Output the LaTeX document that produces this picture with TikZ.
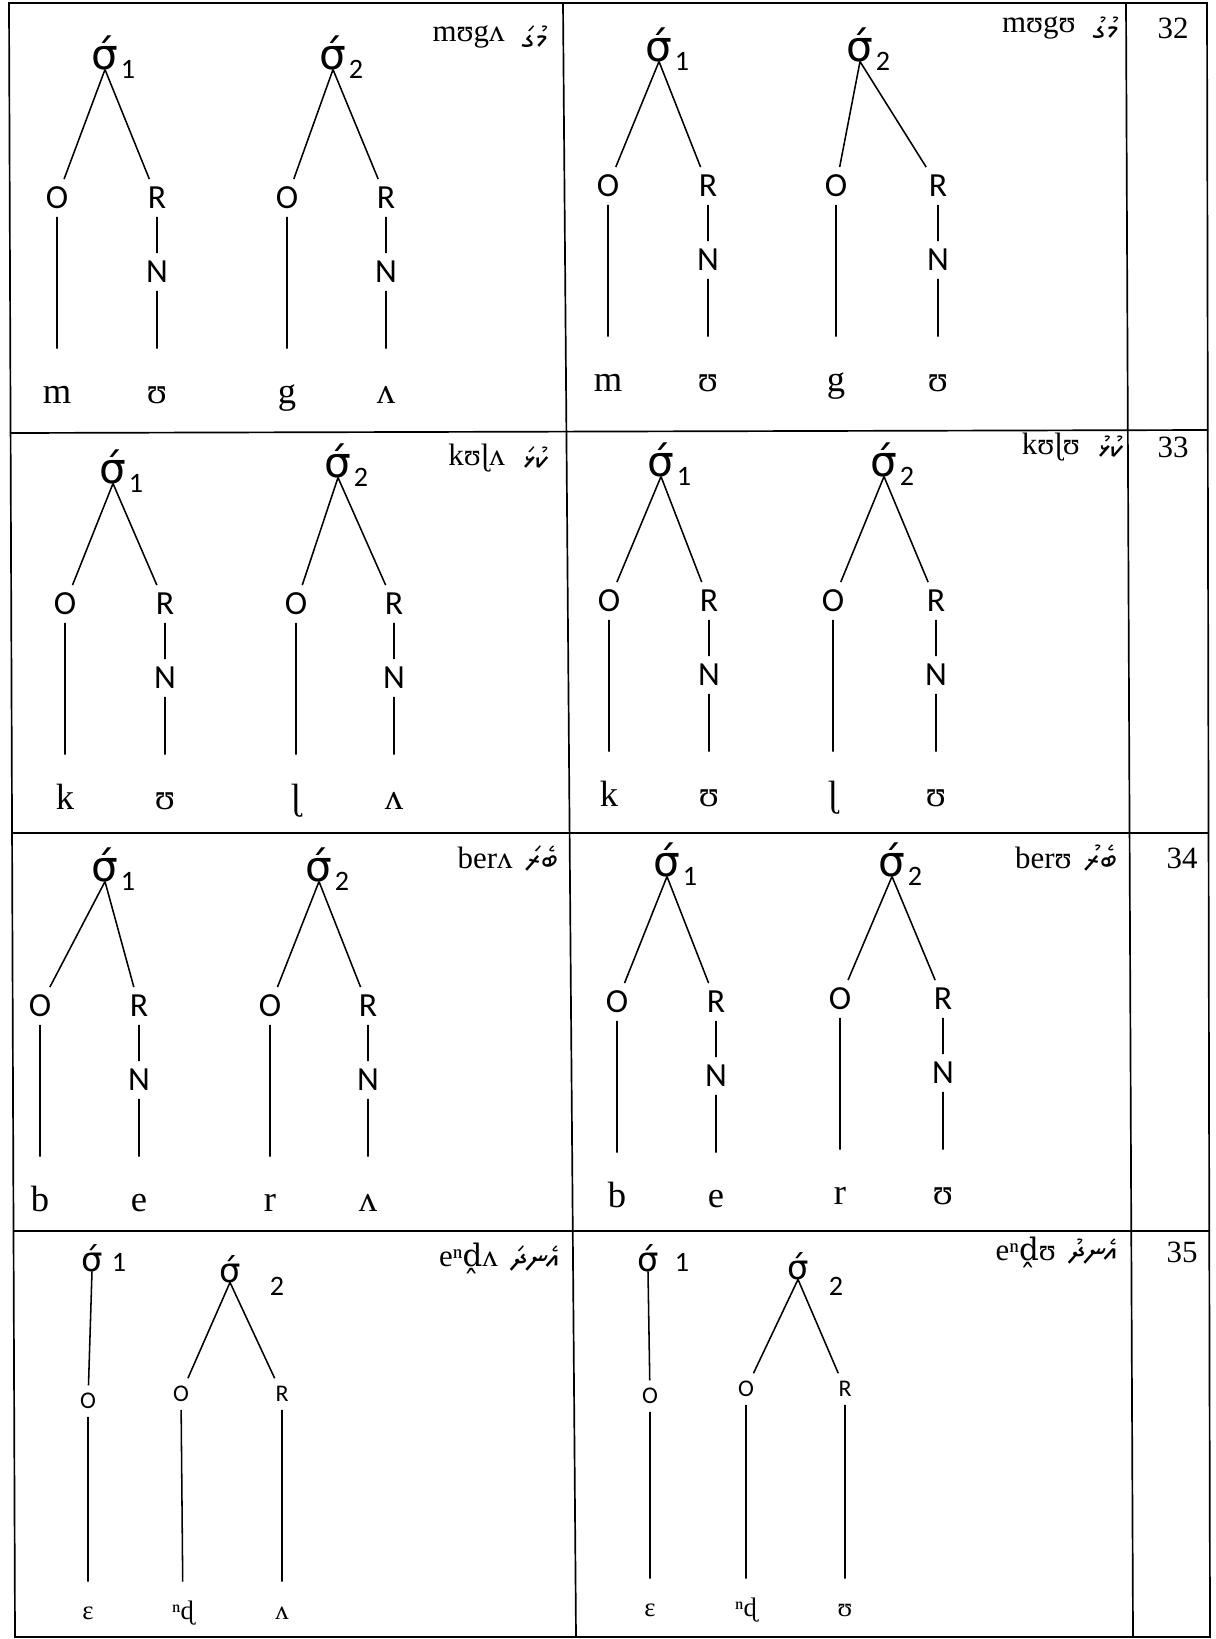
\documentclass[tikz,border=0pt]{standalone}
\usepackage{fontspec}
\newfontfamily\ipafont{Liberation Serif}
\newfontfamily\extfont{DejaVu Serif}
\newfontfamily\lblfont{Carlito}
\newfontfamily\sigfont{DejaVu Sans}
\IfFontExistsTF{FreeSerif.otf}
 {\newfontfamily\thaanafont[Script=Thaana]{FreeSerif.otf}}
 {\newfontfamily\thaanafont[Script=Thaana]{Noto Sans Thaana}}
\TeXXeTstate=1

\begin{document}
\begin{tikzpicture}[x=0.25mm,y=-0.25mm,
 rule/.style={line width=1.2pt,black},
 seg/.style={line width=1.1pt,black},
 syl/.style={font=\sigfont\fontsize{30}{30}\selectfont,inner sep=0pt,text height=16pt,text depth=0pt},
 syl4/.style={syl,font=\sigfont\fontsize{24}{24}\selectfont,text height=13pt},
 dig/.style={font=\lblfont\fontsize{20}{20}\selectfont,inner sep=0pt},
 con/.style={font=\lblfont\fontsize{24}{24}\selectfont,inner sep=0pt,outer sep=5.7pt,text height=15.5pt,text depth=0pt},
 con4/.style={con,font=\lblfont\fontsize{17}{17}\selectfont,text height=11pt},
 ipa/.style={font=\ipafont\fontsize{26}{26}\selectfont,inner sep=0pt,outer sep=27pt,text height=12pt,text depth=0pt},
 ipa4/.style={ipa,font=\ipafont\fontsize{19}{19}\selectfont,text height=8.7pt,outer sep=18pt},
 head/.style={font=\ipafont\fontsize{22}{22}\selectfont,anchor=east,inner sep=0pt},
 thaa/.style={font=\thaanafont\fontsize{22}{22}\selectfont,anchor=east,inner sep=0pt},
 num/.style={font=\ipafont\fontsize{22}{22}\selectfont,inner sep=0pt}]
\useasboundingbox (0,0) rectangle (1215,1639);
\draw[rule] (9,3) -- (1207,3) -- (1210,1637) -- (15,1637) -- cycle;
\draw[rule] (563,3) -- (576,1637);
\draw[rule] (1126,3) -- (1133,1637);
\draw[rule] (10,433) -- (1208,430);
\draw[rule] (11,833) -- (1209,833);
\draw[rule] (13,1231) -- (1210,1231);

\foreach \sx/\sy/\ox/\rx/\oy/\d/\c/\v [count=\i] in {
 105/58/57/157/198/1/m/ʊ, 333/58/287/386/198/2/g/ʌ,
 659/50/608/708/186/1/m/ʊ, 860/50/836/938/186/2/g/ʊ,
 113/472/65/165/604/1/k/ʊ, 338/466/296/394/604/2/ɭ/ʌ,
 661/465/609/709/601/1/k/ʊ, 884/465/833/936/601/2/ɭ/ʊ,
 105/870/40/139/1006/1/b/e, 319/870/270/368/1006/2/r/ʌ,
 667/865/617/716/1002/1/b/e, 892/865/840/943/999/2/r/ʊ}{
 \node[syl] (sg\i) at (\sx,\sy) {σ́};
 \node[dig] (dg\i) at (\sx+23,\sy+11) {\d};
 \node[con] (on\i) at (\ox,\oy) {O};
 \node[con] (rh\i) at (\rx,\oy) {R};
 \node[con] (nc\i) at (\rx,\oy+74) {N};
 \node[ipa] (cs\i) at (\ox,\oy+197) {\c};
 \node[ipa] (vw\i) at (\rx,\oy+197) {\v};
 \draw[seg] (sg\i.south) -- (on\i) (sg\i.south) -- (rh\i)
  (rh\i) -- (nc\i) (nc\i) -- (vw\i) (on\i) -- (cs\i);
}

\node[syl4] (sg13) at (92,1262) {σ́};
\node[dig] (dg13) at (119,1262) {1};
\node[con4] (on13) at (88,1401) {O};
\node[ipa4] (cs13) at (88,1613) {ɛ};
\draw[seg] (sg13.south) -- (on13) -- (cs13);
\node[syl4] (sg14) at (230,1273) {σ́};
\node[dig] (dg14) at (277,1286) {2};
\node[con4] (on14) at (181,1394) {O};
\node[con4] (rh14) at (282,1394) {R};
\node[ipa4] (cs14) at (183,1613) {ⁿɖ};
\node[ipa4] (vw14) at (282,1613) {ʌ};
\draw[seg] (sg14.south) -- (on14) (sg14.south) -- (rh14) (on14) -- (cs14) (rh14) -- (vw14);
\node[syl4] (sg15) at (648,1262) {σ́};
\node[dig] (dg15) at (682,1262) {1};
\node[con4] (on15) at (650,1396) {O};
\node[ipa4] (cs15) at (650,1610) {ɛ};
\draw[seg] (sg15.south) -- (on15) -- (cs15);
\node[syl4] (sg16) at (798,1270) {σ́};
\node[dig] (dg16) at (836,1286) {2};
\node[con4] (on16) at (746,1389) {O};
\node[con4] (rh16) at (845,1389) {R};
\node[ipa4] (cs16) at (746,1610) {ⁿɖ};
\node[ipa4] (vw16) at (845,1610) {ʊ};
\draw[seg] (sg16.south) -- (on16) (sg16.south) -- (rh16) (on16) -- (cs16) (rh16) -- (vw16);

\node[thaa] (th1) at (547,37) {\beginR މުގަ\endR};
\node[head] (hd1) at ([xshift=-12pt]th1.west) {mʊgʌ};
\node[thaa] (th2) at (1118,28) {\beginR މުގު\endR};
\node[head] (hd2) at ([xshift=-12pt]th2.west) {mʊgʊ};
\node[thaa] (th3) at (548,458) {\beginR ކުޅަ\endR};
\node[head] (hd3) at ([xshift=-12pt]th3.west) {kʊɭʌ};
\node[thaa] (th4) at (1123,447) {\beginR ކުޅު\endR};
\node[head] (hd4) at ([xshift=-12pt]th4.west) {kʊɭʊ};
\node[thaa] (th5) at (558,858) {\beginR ބެރަ\endR};
\node[head] (hd5) at ([xshift=-9pt]th5.west) {berʌ};
\node[thaa] (th6) at (1117,858) {\beginR ބެރު\endR};
\node[head] (hd6) at ([xshift=-9pt]th6.west) {berʊ};
\node[thaa] (th7) at (560,1258) {\beginR އެނދަ\endR};
\node[head] (hd7) at ([xshift=-9pt]th7.west) {eⁿ{\extfont ḓ}ʌ};
\node[thaa] (th8) at (1118,1252) {\beginR އެނދު\endR};
\node[head] (hd8) at ([xshift=-9pt]th8.west) {eⁿ{\extfont ḓ}ʊ};

\node[num] (nm32) at (1173,28) {32};
\node[num] (nm33) at (1173,447) {33};
\node[num] (nm34) at (1182,858) {34};
\node[num] (nm35) at (1182,1252) {35};
\end{tikzpicture}
\end{document}
